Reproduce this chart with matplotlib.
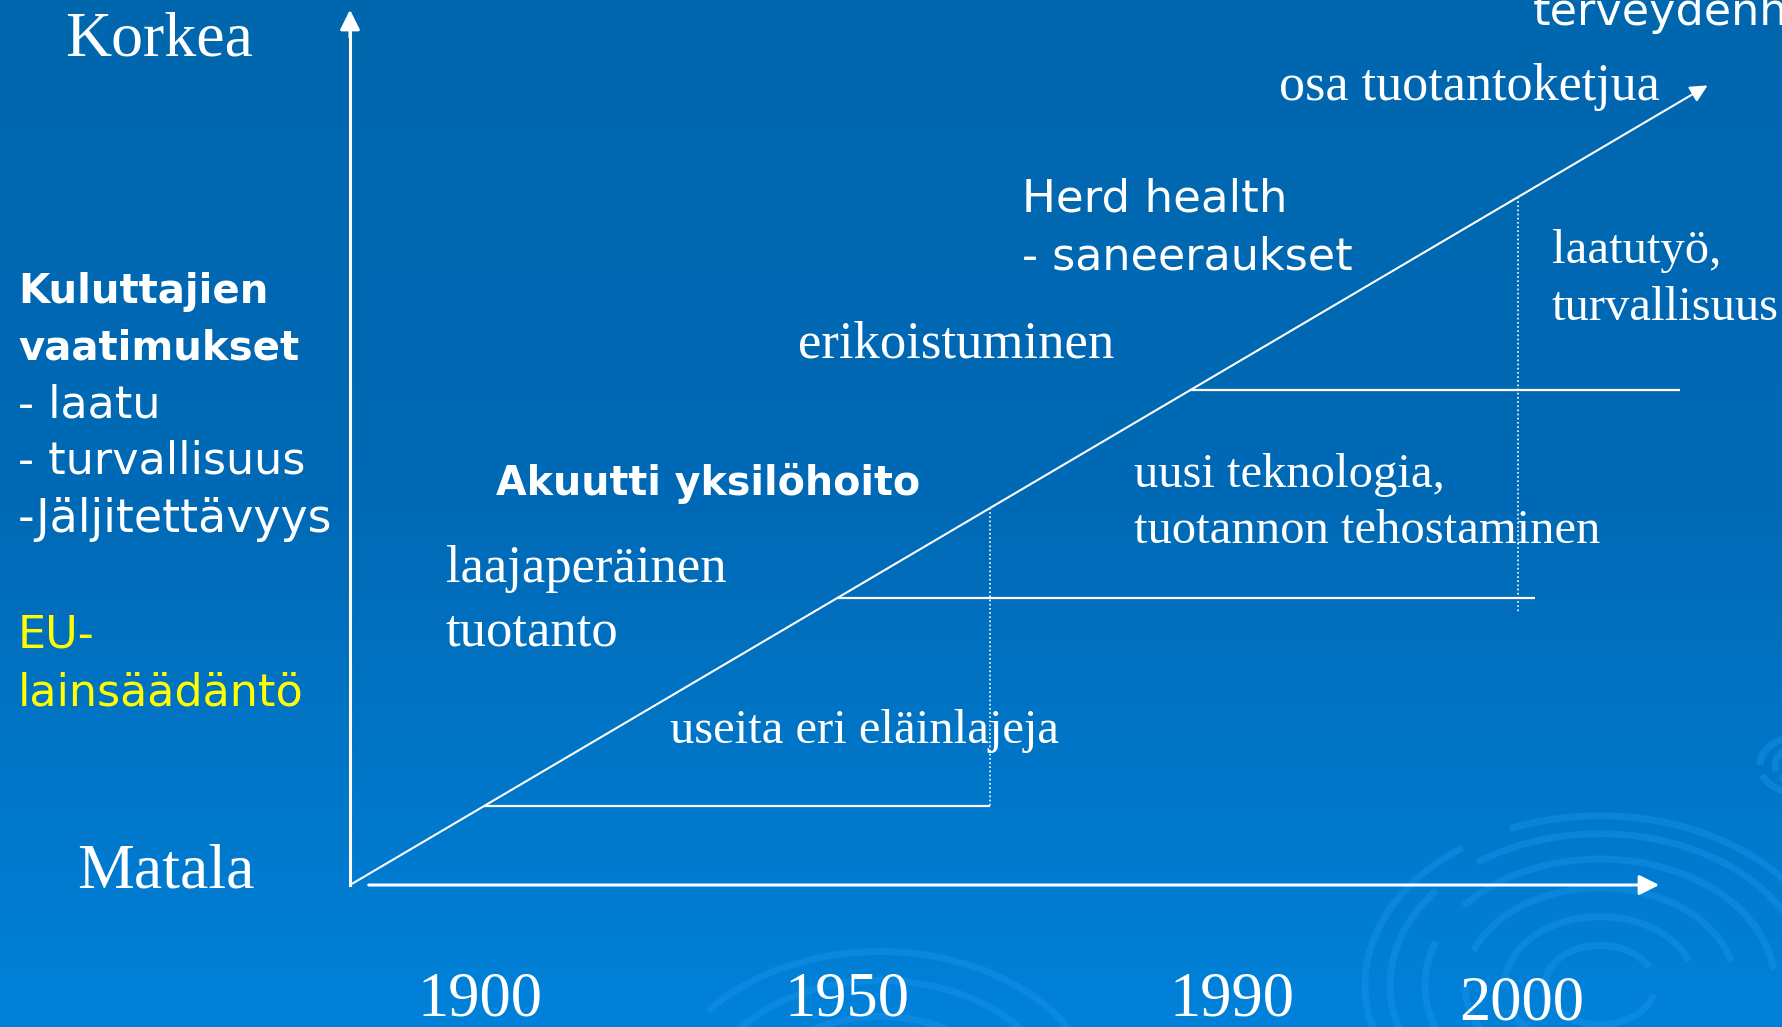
import numpy as np
import matplotlib.pyplot as plt
from matplotlib.patches import Arc, FancyArrowPatch
from matplotlib.colors import to_rgb

# slide size in pixels, all positions below are slide pixels (y down)
W, H = 1783, 1027
ORIGIN = (350, 885)

# trend line of the diagram (low -> high)
trend_x = [350, 1710]
trend_y = [885, 84]

# stages: horizontal step lines start on the trend line
step_y = [806, 598, 390]
step_end = [990, 1535, 1680]

# dotted dividers, from trend line down to this y
divider_x = [990, 1518]
divider_bottom = [806, 612]

years = ["1900", "1950", "1990", "2000"]
year_x = [480, 847, 1232, 1522]
year_base = [1015, 1015, 1015, 1020]

serif_labels = [
    ("osa tuotantoketjua", 1279, 100, 37.5),
    ("laatutyö,", 1552, 263, 35),
    ("turvallisuus", 1552, 320, 35),
    ("erikoistuminen", 798, 357, 38),
    ("uusi teknologia,", 1134, 487, 35),
    ("tuotannon tehostaminen", 1134, 543, 35),
    ("laajaperäinen", 446, 582, 38),
    ("tuotanto", 446, 646, 38),
    ("useita eri eläinlajeja", 670, 743, 35),
]

sans_labels = [
    ("terveydenhuolto", 1533, 25, 32, "normal", "white"),
    ("Herd health", 1022, 212, 32.5, "normal", "white"),
    ("- saneeraukset", 1022, 269, 32, "normal", "white"),
    ("Akuutti yksilöhoito", 496, 495, 28.5, "bold", "white"),
    ("Kuluttajien", 18, 303, 29, "bold", "white"),
    ("vaatimukset", 18, 360, 29, "bold", "white"),
    ("- laatu", 18, 417, 32, "normal", "white"),
    ("- turvallisuus", 18, 473, 32, "normal", "white"),
    ("-Jäljitettävyys", 18, 532, 33, "normal", "white"),
    ("EU-", 18, 648, 32, "normal", "#FFFF00"),
    ("lainsäädäntö", 18, 705, 32, "normal", "#FFFF00"),
]

fig = plt.figure(figsize=(W / 100, H / 100), dpi=100)
ax = fig.add_axes([0, 0, 1, 1])
ax.set_xlim(0, W)
ax.set_ylim(H, 0)
ax.axis("off")

# background gradient
top = np.array(to_rgb("#0066AE"))
mid = np.array(to_rgb("#006AB6"))
bot = np.array(to_rgb("#0082DA"))
t = np.linspace(0, 1, H)[:, None]
grad = np.where(t < 0.5, top + (mid - top) * (t / 0.5),
                mid + (bot - mid) * ((t - 0.5) / 0.5))
ax.imshow(grad[:, None, :], extent=[0, W, H, 0], aspect="auto", zorder=0)

# swirl decoration
swirl = "#1A92EC"
for cx, cy, widths in [(1600, 985, [110, 190, 270, 350, 420, 470]),
                       (880, 1110, [160, 260, 360, 440]),
                       (1800, 765, [50, 80])]:
    for i, w in enumerate(widths):
        for th0, th1 in [(10 + 25 * i, 150 + 15 * i), (165 + 15 * i, 340 + 5 * i)]:
            ax.add_patch(Arc((cx, cy), w, w * 0.72, theta1=th0, theta2=th1,
                             color=swirl, lw=5, alpha=0.45, zorder=1))

# axes of the diagram
ax.plot([ORIGIN[0], ORIGIN[0]], [ORIGIN[1], 30], color="white", lw=2.2, zorder=3)
ax.add_patch(FancyArrowPatch((ORIGIN[0], 40), (ORIGIN[0], 7), arrowstyle="-|>",
                             mutation_scale=30, color="white", lw=2.2, zorder=3))
ax.add_patch(FancyArrowPatch((366, ORIGIN[1]), (1662, ORIGIN[1]), arrowstyle="-|>",
                             mutation_scale=30, color="white", lw=2.2, zorder=3))
ax.add_patch(FancyArrowPatch((trend_x[0], trend_y[0]), (trend_x[1], trend_y[1]),
                             arrowstyle="-|>", mutation_scale=26, color="white",
                             lw=1.5, zorder=3))

# steps start where they meet the trend line
step_start = np.interp(step_y, trend_y[::-1], trend_x[::-1])
ax.hlines(step_y, step_start, step_end, color="white", lw=1.6, zorder=3)
div_top = np.interp(divider_x, trend_x, trend_y)
ax.vlines(divider_x, div_top, divider_bottom, color="white", lw=1.2,
          linestyles=(0, (1, 1.5)), zorder=3)

# texts
ax.text(159, 55, "Korkea", family="Liberation Serif", fontsize=46,
        color="white", ha="center", va="baseline")
ax.text(166, 887, "Matala", family="Liberation Serif", fontsize=46,
        color="white", ha="center", va="baseline")
for lab, x, y in zip(years, year_x, year_base):
    ax.text(x, y, lab, family="Liberation Serif", fontsize=45,
            color="white", ha="center", va="baseline")
for lab, x, y, fs in serif_labels:
    ax.text(x, y, lab, family="Liberation Serif", fontsize=fs,
            color="white", ha="left", va="baseline", zorder=4)
for lab, x, y, fs, wt, col in sans_labels:
    ax.text(x, y, lab, family="DejaVu Sans", fontsize=fs, fontweight=wt,
            color=col, ha="left", va="baseline", zorder=4)

fig.savefig("out.png", dpi=100)
